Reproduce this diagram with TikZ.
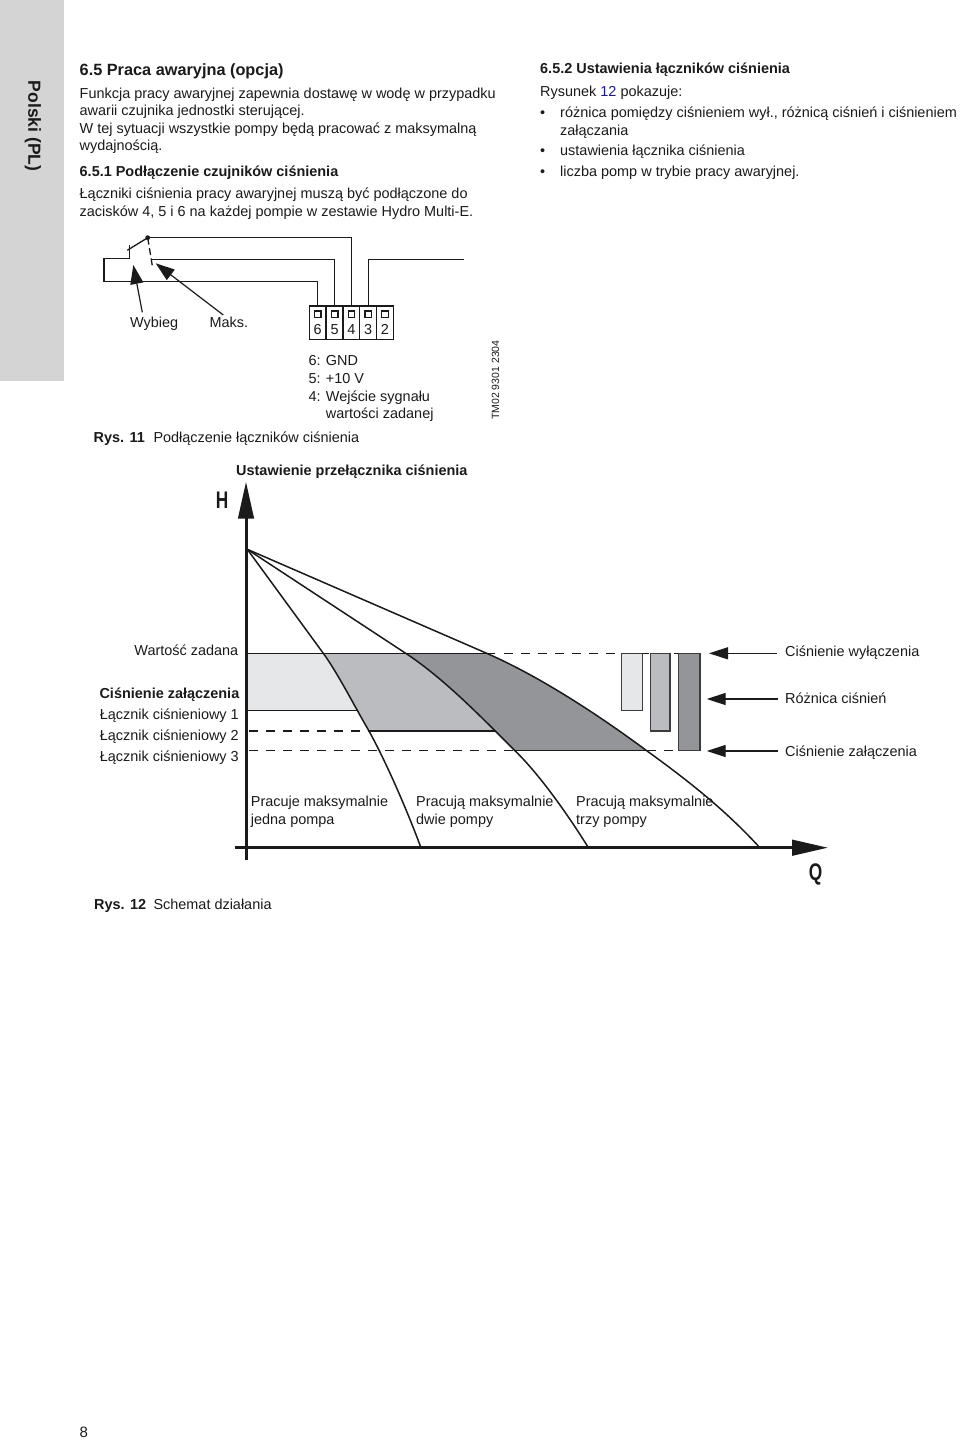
\documentclass[tikz,border=0pt]{standalone}
\usepackage{fontspec}
\setmainfont{Liberation Sans}
\usetikzlibrary{arrows.meta}
\definecolor{stripgray}{HTML}{D4D4D4}
\definecolor{banda}{HTML}{E6E7E8}
\definecolor{bandb}{HTML}{BBBCBF}
\definecolor{bandc}{HTML}{939598}
\definecolor{linkblue}{HTML}{1A1A8C}
\definecolor{ink}{HTML}{1A1A1A}
\newcommand{\curveone}{(247.3,549.3) -- (323.3,653.3) .. controls (338,673.5) and (356,709) .. (369,731) .. controls (385,760) and (405,805) .. (420.7,847)}
\newcommand{\curvetwo}{(247.3,549.3) -- (405.7,653.3) .. controls (445,679) and (485,721) .. (515,750.7) .. controls (540,775) and (568,815) .. (588,847)}
\newcommand{\curvethree}{(247.3,549.3) -- (486.7,653.3) .. controls (540,676.5) and (600,716) .. (646.7,750.7) .. controls (690,782) and (725,810) .. (758.3,846)}
\tikzset{
  txt/.style={anchor=base west,inner sep=0pt,text=ink,font=\fontsize{14.45}{17}\selectfont},
  txtb/.style={txt,font=\fontsize{14.45}{17}\selectfont\bfseries},
  txtr/.style={txt,anchor=base east},
  wire/.style={draw=ink,line width=1.3pt},
  curve/.style={draw=ink,line width=1.5pt},
  level/.style={draw=ink,line width=1.5pt},
  leveld/.style={level,dash pattern=on 9pt off 8pt},
  axis/.style={draw=ink,line width=3pt},
  boxb/.style={draw=ink!85,line width=1.5pt},
  termcell/.style={draw=ink,line width=1.3pt,minimum width=16.8pt,minimum height=33.7pt,inner sep=0pt},
  termsq/.style={draw=ink,line width=1.3pt,minimum size=6.5pt,inner sep=0pt},
  smallhead/.style={-{Triangle[length=19pt,width=13pt]},draw=ink,line width=1.2pt},
  sidehead/.style={-{Triangle[length=19pt,width=12pt]},draw=ink,line width=1.2pt},
}
\begin{document}
\begin{tikzpicture}[x=1pt,y=-1pt]
\useasboundingbox (0,0) rectangle (960,1440);
\fill[stripgray] (0,0) rectangle (64,381);
\node[txtb,anchor=center,rotate=-90,font=\fontsize{17.5}{20}\selectfont\bfseries] (lang) at (33,126) {Polski (PL)};
% left column
\node[txtb,font=\fontsize{16.3}{18}\selectfont\bfseries] (headmain) at (79.5,75) {6.5 Praca awaryjna (opcja)};
\node[txt] (parA) at (79.5,98) {Funkcja pracy awaryjnej zapewnia dostawę w wodę w przypadku};
\node[txt] (parB) at (79.5,115.5) {awarii czujnika jednostki sterującej.};
\node[txt] (parC) at (79.5,133) {W tej sytuacji wszystkie pompy będą pracować z maksymalną};
\node[txt] (parD) at (79.5,150.5) {wydajnością.};
\node[txtb] (headA) at (79.5,176) {6.5.1 Podłączenie czujników ciśnienia};
\node[txt] (parE) at (79.5,198) {Łączniki ciśnienia pracy awaryjnej muszą być podłączone do};
\node[txt] (parF) at (79.5,216) {zacisków 4, 5 i 6 na każdej pompie w zestawie Hydro Multi-E.};
% right column
\node[txtb] (headB) at (540,73.5) {6.5.2 Ustawienia łączników ciśnienia};
\node[txt] (parG) at (540,96) {Rysunek \textcolor{linkblue}{12} pokazuje:};
\node[txt] (bulA) at (540,117.5) {•};
\node[txt] (itemA) at (560,117.5) {różnica pomiędzy ciśnieniem wył., różnicą ciśnień i ciśnieniem};
\node[txt] (itemB) at (560,135) {załączania};
\node[txt] (bulB) at (540,155.3) {•};
\node[txt] (itemC) at (560,155.3) {ustawienia łącznika ciśnienia};
\node[txt] (bulC) at (540,176.7) {•};
\node[txt] (itemD) at (560,176.7) {liczba pomp w trybie pracy awaryjnej.};
% terminal block
\node[termcell] (t6) at (317.7,322.8) {};
\node[termcell] (t5) at (334.6,322.8) {};
\node[termcell] (t4) at (351.4,322.8) {};
\node[termcell] (t3) at (368.2,322.8) {};
\node[termcell] (t2) at (385,322.8) {};
\node[termsq] (s6) at (317.7,314.3) {};
\node[termsq] (s5) at (334.6,314.3) {};
\node[termsq] (s4) at (351.4,314.3) {};
\node[termsq] (s3) at (368.2,314.3) {};
\node[termsq] (s2) at (385,314.3) {};
\node[txt,anchor=base] (n6) at (317.7,334.5) {6};
\node[txt,anchor=base] (n5) at (334.6,334.5) {5};
\node[txt,anchor=base] (n4) at (351.4,334.5) {4};
\node[txt,anchor=base] (n3) at (368.2,334.5) {3};
\node[txt,anchor=base] (n2) at (385,334.5) {2};
% switch and wires
\coordinate (pivot) at (147.7,237.7);
\coordinate (armend) at (127.3,250.3);
\coordinate (contA) at (129.3,245);
\coordinate (contB) at (129.3,258.3);
\coordinate (contC) at (152.3,265.7);
\coordinate (contD) at (152,259.3);
\coordinate (freeend) at (464,259.3);
\fill[ink] (pivot) circle (2.4pt);
\draw[wire] (pivot) -- (armend);
\draw[wire] (contA) -- (contB) -- (104,258.3) -- (104,281.7) -| (t6.north);
\draw[wire] (pivot) -| (t4.north);
\draw[wire] (contD) -| (t5.north);
\draw[wire] (t3.north) |- (freeend);
\draw[wire,dash pattern=on 7pt off 3.5pt] (pivot) -- (contC);
\node[txt] (wyb) at (130,327) {Wybieg};
\node[txt] (mak) at (209.3,327) {Maks.};
\coordinate (wybtip) at (133.3,265);
\coordinate (maktip) at (155.7,263.3);
\draw[smallhead] (142.3,312.3) -- (wybtip);
\draw[smallhead] (223.3,315) -- (maktip);
% legend
\node[txt] (legA) at (308.3,365) {6: GND};
\node[txt] (legB) at (308.3,383) {5: +10 V};
\node[txt] (legC) at (308.3,401) {4: Wejście sygnału};
\node[txt] (legD) at (325.7,418) {wartości zadanej};
\node[txt,rotate=90,font=\fontsize{10.5}{13}\selectfont] (tmcode) at (499,420) {TM02 9301 2304};
\node[txtb] (rysA) at (93.5,442) {Rys. 11};
\node[txt] (rysAt) at (153.3,442) {Podłączenie łączników ciśnienia};
% chart
\node[txtb] (title) at (236,475) {Ustawienie przełącznika ciśnienia};
\begin{scope}
\clip \curvethree -- (246,846) -- cycle;
\fill[bandc] (246,653.3) rectangle (700,750.7);
\end{scope}
\begin{scope}
\clip \curvetwo -- (246,847) -- cycle;
\fill[white] (246,653.3) rectangle (700,750.7);
\fill[bandb] (246,653.3) rectangle (700,731);
\end{scope}
\begin{scope}
\clip \curveone -- (246,847) -- cycle;
\fill[white] (246,653.3) rectangle (700,731);
\fill[banda] (246,653.3) rectangle (700,710.7);
\end{scope}
\draw[level] (246,653.3) -- (495,653.3);
\draw[level] (246,710.7) -- (356.7,710.7);
\draw[level] (369,731) -- (495,731);
\draw[level] (515,750.7) -- (646.7,750.7);
\draw[leveld] (504,653.3) -- (678,653.3);
\draw[leveld] (249,731) -- (369,731);
\draw[leveld] (249,750.7) -- (515,750.7);
\draw[leveld] (646.7,750.7) -- (678,750.7);
\draw[curve] \curveone;
\draw[curve] \curvetwo;
\draw[curve] \curvethree;
\draw[boxb,fill=banda] (621.3,653.3) rectangle (642.3,710.7);
\draw[boxb,fill=bandb] (650.3,653.3) rectangle (670,731);
\draw[boxb,fill=bandc] (678.3,653.3) rectangle (700,750.7);
\coordinate (hbot) at (246,860);
\coordinate (htop) at (246,481.7);
\coordinate (qleft) at (235,847.7);
\coordinate (qtip) at (828,847.7);
\draw[axis,-{Triangle[length=37pt,width=15.5pt]}] (hbot) -- (htop);
\draw[axis,-{Triangle[length=36pt,width=15.5pt]}] (qleft) -- (qtip);
\node[txtb,anchor=base,text=ink] (hlabel) at (222,508.5) {\fontsize{24}{24}\selectfont\scalebox{0.72}[1]{H}};
\node[txtb,anchor=base,text=ink] (qlabel) at (815.5,880.5) {\fontsize{24}{24}\selectfont\scalebox{0.72}[1]{Q}};
% labels at the axis
\node[txtr] (lblset) at (238.5,655) {Wartość zadana};
\node[txtb,anchor=base east] (lblon) at (239.5,698) {Ciśnienie załączenia};
\node[txtr] (lblA) at (239,719.5) {Łącznik ciśnieniowy 1};
\node[txtr] (lblB) at (239,740.7) {Łącznik ciśnieniowy 2};
\node[txtr] (lblC) at (239,761.7) {Łącznik ciśnieniowy 3};
\node[txt] (oneA) at (250.7,806.7) {Pracuje maksymalnie};
\node[txt] (oneB) at (250.7,824) {jedna pompa};
\node[txt] (twoA) at (416,806.7) {Pracują maksymalnie};
\node[txt] (twoB) at (416,824) {dwie pompy};
\node[txt] (thrA) at (576,806.7) {Pracują maksymalnie};
\node[txt] (thrB) at (576,824) {trzy pompy};
% labels at the right
\node[txt] (lbloff) at (785,656.5) {Ciśnienie wyłączenia};
\node[txt] (lbldiff) at (785,703) {Różnica ciśnień};
\node[txt] (lblclose) at (785,756.5) {Ciśnienie załączenia};
\coordinate (offend) at (776.7,653.3);
\coordinate (diffend) at (778,699);
\coordinate (closeend) at (778,751);
\draw[sidehead] (offend) -- (709,653.3);
\draw[sidehead] (diffend) -- (706.7,699);
\draw[sidehead] (closeend) -- (706.7,751);
\node[txtb] (rysB) at (94,909) {Rys. 12};
\node[txt] (rysBt) at (153.3,909) {Schemat działania};
\node[txt,font=\fontsize{15}{18}\selectfont] (pageno) at (79.5,1437) {8};
\end{tikzpicture}
\end{document}
